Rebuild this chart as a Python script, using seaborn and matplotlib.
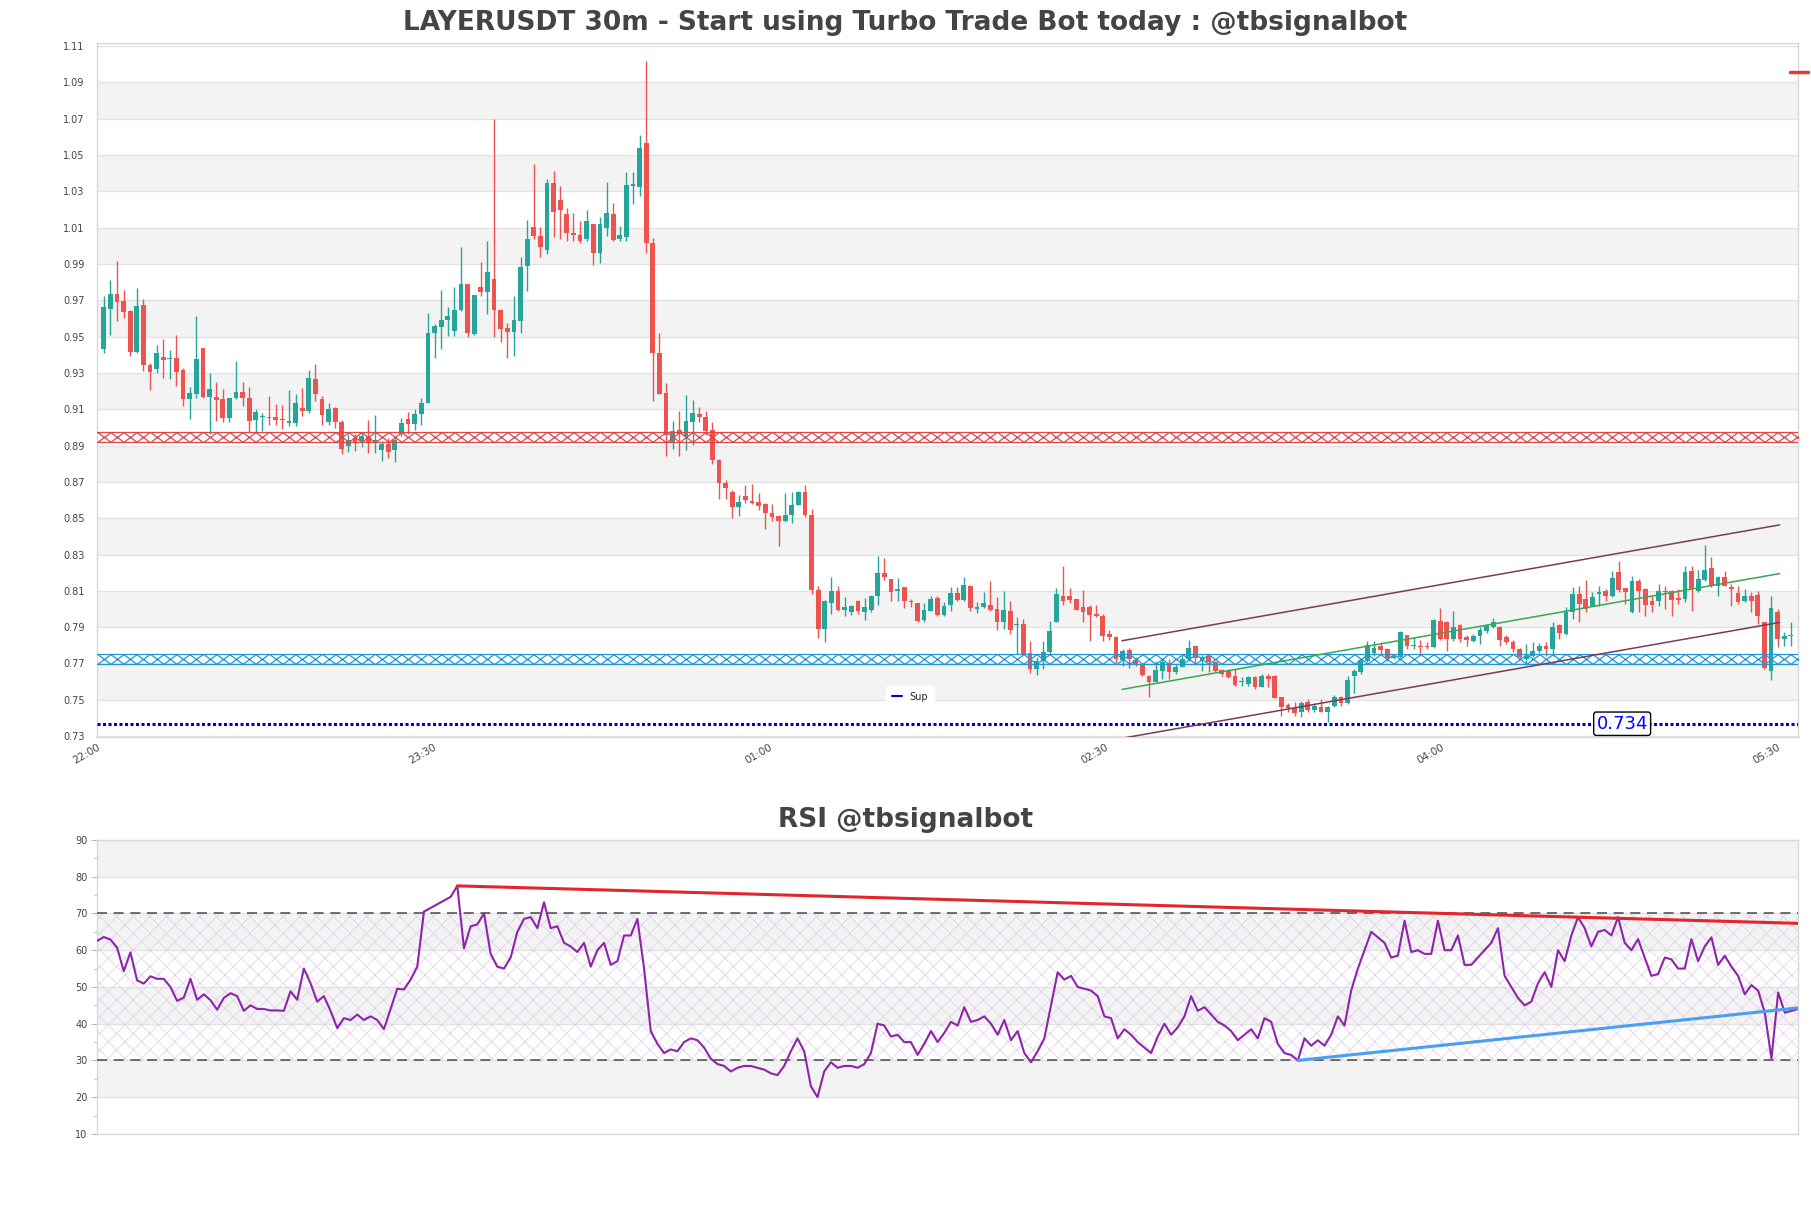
import matplotlib
matplotlib.use('Agg')
import matplotlib.pyplot as plt
import matplotlib.transforms as mtransforms
import seaborn as sns
import numpy as np
import pandas as pd
from matplotlib.lines import Line2D
from matplotlib.path import Path

# ---------------- data ----------------
title_text = 'LAYERUSDT 30m - Start using Turbo Trade Bot today : @tbsignalbot'
rsi_title = 'RSI @tbsignalbot'

opens = [
    .9434, .9651, .9734, .9697, .9642, .9416, .9673, .9344, .9320, .9390,
    .9374, .9380, .9314, .9158, .9182, .9436, .9167, .9167, .9154, .9053,
    .9160, .9197, .9160, .9040, .9055, .9057, .9058, .9042, .9022, .9022,
    .9108, .9093, .9264, .9154, .9029, .9108, .9031, .8896, .8939, .8924,
    .8948, .8915, .8878, .8911, .8878, .8964, .9049, .9020, .9075, .9136,
    .9522, .9554, .9589, .9532, .9646, .9790, .9513, .9771, .9747, .9815,
    .9646, .9550, .9526, .9587, .9888, 1.0105, 1.0056, .9977, 1.0344, 1.0253,
    1.0173, 1.0068, 1.0059, 1.0035, 1.0118, .9962, 1.0100, 1.0173, 1.0039, 1.0050,
    1.0331, 1.0326, 1.0569, 1.0013, .9410, .9189, .8913, .8987, .8946, .9029,
    .9075, .9059, .8987, .8819, .8695, .8644, .8561, .8620, .8594, .8589,
    .8579, .8528, .8511, .8487, .8515, .8574, .8647, .8515, .8105, .7890,
    .8033, .8097, .7996, .7985, .8042, .7985, .7996, .8073, .8199, .8165,
    .8098, .8120, .8046, .8033, .7941, .7991, .8061, .7969, .8024, .8086,
    .8050, .8125, .7999, .8009, .8024, .8000, .7930, .7987, .7912, .7917,
    .7757, .7672, .7715, .7761, .7930, .8073, .8070, .8055, .8009, .8009,
    .7972, .7963, .7862, .7847, .7721, .7776, .7721, .7691, .7632, .7599,
    .7660, .7700, .7651, .7682, .7724, .7794, .7715, .7739, .7706, .7665,
    .7656, .7632, .7596, .7586, .7627, .7572, .7632, .7632, .7513, .7471,
    .7452, .7430, .7489, .7445, .7458, .7430, .7463, .7513, .7482, .7629,
    .7651, .7715, .7757, .7794, .7779, .7728, .7733, .7857, .7794, .7798,
    .7798, .7789, .7936, .7926, .7835, .7912, .7844, .7825, .7849, .7880,
    .7899, .7899, .7847, .7820, .7779, .7724, .7743, .7770, .7798, .7779,
    .7912, .7862, .7982, .8083, .8055, .8018, .8085, .8101, .8070, .8206,
    .8114, .7985, .8156, .8110, .8046, .8046, .8101, .8101, .8059, .8055,
    .8211, .8101, .8162, .8224, .8125, .8175, .8120, .8088, .8046, .8070,
    .8077, .7926, .7660, .7982, .7835, .7850]

highs = [
    .9725, .9812, .9915, .9756, .9645, .9767, .9707, .9357, .9452, .9486,
    .9425, .9508, .9329, .9222, .9611, .9438, .9298, .9250, .9209, .9162,
    .9366, .9252, .9224, .9103, .9077, .9173, .9130, .9126, .9204, .9182,
    .9215, .9314, .9347, .9173, .9132, .9110, .9040, .8961, .8961, .8974,
    .9040, .9071, .8924, .8942, .8948, .9053, .9086, .9099, .9163, .9629,
    .9569, .9756, .9661, .9775, .9991, .9792, .9731, .9909, 1.0028, 1.0698,
    .9651, .9575, .9725, .9936, 1.0142, 1.0449, 1.0105, 1.0367, 1.0414, 1.0330,
    1.0206, 1.0179, 1.0138, 1.0197, 1.0120, 1.0157, 1.0350, 1.0234, 1.0111, 1.0405,
    1.0405, 1.0609, 1.1016, 1.0045, .9520, .9244, .9038, .9090, .9180, .9152,
    .9112, .9088, .9029, .8828, .8712, .8657, .8629, .8684, .8690, .8640,
    .8581, .8579, .8513, .8638, .8644, .8649, .8684, .8552, .8129, .8048,
    .8175, .8125, .8064, .8024, .8050, .8059, .8075, .8294, .8280, .8167,
    .8169, .8122, .8055, .8035, .8031, .8073, .8073, .8040, .8119, .8119,
    .8175, .8132, .8037, .8092, .8156, .8064, .8101, .8046, .7954, .7945,
    .7821, .7733, .7821, .7932, .8114, .8238, .8116, .8057, .8105, .8022,
    .8024, .7972, .7884, .7849, .7779, .7783, .7733, .7697, .7638, .7715,
    .7724, .7724, .7697, .7748, .7829, .7798, .7746, .7748, .7715, .7669,
    .7669, .7669, .7623, .7632, .7632, .7642, .7642, .7634, .7518, .7485,
    .7489, .7494, .7504, .7485, .7507, .7467, .7526, .7522, .7632, .7669,
    .7724, .7825, .7825, .7816, .7783, .7748, .7880, .7859, .7844, .7831,
    .7820, .7945, .8004, .7936, .7991, .7917, .7857, .7862, .7899, .7917,
    .7949, .7908, .7857, .7831, .7783, .7807, .7816, .7812, .7820, .7930,
    .7917, .8009, .8120, .8129, .8162, .8092, .8129, .8110, .8211, .8267,
    .8116, .8184, .8165, .8114, .8070, .8138, .8129, .8103, .8110, .8235,
    .8239, .8217, .8353, .8285, .8184, .8211, .8138, .8129, .8110, .8092,
    .8101, .7930, .8074, .8000, .7871, .7926]

lows = [
    .9412, .9508, .9587, .9602, .9394, .9408, .9311, .9206, .9301, .9270,
    .9265, .9228, .9117, .9047, .9163, .9163, .8961, .9034, .9029, .9029,
    .9158, .9117, .8974, .8974, .8979, .9011, .9011, .8992, .9007, .9007,
    .9062, .9080, .9145, .9016, .9013, .8998, .8854, .8863, .8872, .8891,
    .8860, .8860, .8813, .8832, .8810, .8952, .8961, .8988, .9011, .9132,
    .9384, .9434, .9505, .9504, .9642, .9500, .9510, .9725, .9624, .9498,
    .9471, .9384, .9393, .9522, .9752, 1.0035, .9940, .9954, 1.0050, 1.0035,
    1.0028, 1.0028, 1.0017, 1.0026, .9894, .9908, 1.0054, 1.0028, 1.0028, 1.0028,
    1.0230, 1.0275, .9962, .9145, .9182, .8845, .8881, .8845, .8873, .8902,
    .9029, .8956, .8799, .8603, .8603, .8502, .8511, .8583, .8579, .8543,
    .8438, .8484, .8349, .8478, .8473, .8570, .8506, .8083, .7840, .7820,
    .7972, .7987, .7963, .7967, .7972, .7941, .7982, .8024, .8160, .8042,
    .8046, .8005, .8009, .7926, .7930, .7987, .7963, .7963, .7987, .8042,
    .8046, .7987, .7976, .8005, .7991, .7886, .7890, .7862, .7752, .7748,
    .7647, .7636, .7672, .7746, .7930, .8024, .8031, .7996, .7926, .7825,
    .7957, .7825, .7831, .7702, .7688, .7673, .7688, .7632, .7513, .7596,
    .7614, .7614, .7642, .7678, .7715, .7691, .7660, .7651, .7651, .7632,
    .7618, .7577, .7577, .7577, .7562, .7568, .7568, .7509, .7412, .7430,
    .7408, .7403, .7434, .7434, .7430, .7375, .7458, .7467, .7476, .7540,
    .7642, .7706, .7743, .7746, .7715, .7724, .7728, .7779, .7779, .7743,
    .7779, .7783, .7829, .7770, .7825, .7820, .7794, .7820, .7807, .7868,
    .7893, .7798, .7807, .7761, .7724, .7691, .7733, .7757, .7743, .7743,
    .7835, .7857, .7945, .7926, .7982, .8015, .8018, .8046, .8064, .8096,
    .8028, .7978, .7982, .7963, .7982, .8018, .8000, .7963, .8028, .8037,
    .7991, .8096, .8156, .8120, .8070, .8125, .8018, .8028, .8037, .7982,
    .7917, .7669, .7610, .7789, .7798, .7798]

closes = [
    .9664, .9734, .9692, .9637, .9416, .9670, .9344, .9305, .9412, .9371,
    .9376, .9305, .9158, .9191, .9375, .9167, .9213, .9150, .9053, .9160,
    .9197, .9160, .9034, .9086, .9057, .9053, .9040, .9040, .9038, .9132,
    .9090, .9270, .9182, .9068, .9099, .9029, .8883, .8933, .8918, .8952,
    .8915, .8933, .8911, .8865, .8928, .9025, .9020, .9075, .9136, .9522,
    .9556, .9591, .9611, .9646, .9790, .9522, .9729, .9743, .9854, .9645,
    .9541, .9526, .9591, .9882, 1.0035, 1.0054, .9991, 1.0344, 1.0186, 1.0197,
    1.0068, 1.0057, 1.0026, 1.0138, .9962, 1.0118, 1.0179, 1.0032, 1.0057, 1.0333,
    1.0339, 1.0541, 1.0013, .9410, .9182, .8956, .8980, .8961, .9033, .9081,
    .9057, .8978, .8818, .8693, .8666, .8561, .8589, .8598, .8585, .8567,
    .8528, .8509, .8487, .8519, .8574, .8647, .8515, .8107, .7890, .8046,
    .8101, .7994, .8009, .8018, .7987, .8009, .8073, .8199, .8178, .8096,
    .8110, .8046, .8037, .7936, .7994, .8055, .7969, .8018, .8088, .8050,
    .8132, .8004, .8009, .8031, .7996, .7926, .7994, .7886, .7914, .7748,
    .7672, .7715, .7761, .7877, .8083, .8042, .8051, .7996, .7985, .7969,
    .7963, .7853, .7847, .7724, .7770, .7724, .7691, .7638, .7599, .7664,
    .7706, .7651, .7682, .7724, .7785, .7728, .7733, .7706, .7660, .7642,
    .7627, .7583, .7605, .7627, .7572, .7632, .7614, .7509, .7458, .7452,
    .7426, .7482, .7443, .7463, .7434, .7458, .7518, .7485, .7608, .7656,
    .7719, .7801, .7783, .7776, .7728, .7743, .7871, .7794, .7798, .7789,
    .7789, .7941, .7835, .7835, .7899, .7835, .7829, .7853, .7886, .7904,
    .7926, .7829, .7820, .7779, .7733, .7743, .7770, .7794, .7779, .7903,
    .7868, .7985, .8083, .8028, .8000, .8068, .8089, .8070, .8169, .8107,
    .8092, .8156, .8101, .8022, .8022, .8101, .8092, .8051, .8051, .8206,
    .8110, .8165, .8215, .8125, .8175, .8129, .8110, .8040, .8070, .8046,
    .7963, .7673, .8004, .7835, .7853, .7857]

rsi = [
    62.5, 63.6, 62.9, 60.7, 54.3, 59.4, 51.8, 50.9, 52.9, 52.2,
    52.2, 50.0, 46.2, 47.1, 52.2, 46.5, 48.0, 46.4, 43.8, 47.0,
    48.3, 47.5, 43.5, 45.0, 44.0, 44.0, 43.6, 43.6, 43.5, 48.8,
    46.5, 55.0, 51.0, 46.0, 47.5, 43.5, 38.8, 41.5, 41.0, 42.5,
    41.0, 42.0, 41.0, 38.5, 44.0, 49.5, 49.3, 52.0, 55.5, 70.5,
    71.5, 72.5, 73.5, 74.5, 77.5, 60.5, 66.5, 67.0, 70.0, 59.0,
    55.5, 55.0, 58.0, 65.0, 68.5, 69.0, 66.0, 73.0, 66.0, 66.5,
    62.0, 61.0, 59.5, 62.0, 55.5, 60.0, 62.0, 56.0, 57.0, 64.0,
    64.0, 68.5, 55.0, 38.0, 34.5, 32.0, 33.0, 32.5, 35.0, 36.0,
    35.5, 33.5, 30.5, 29.0, 28.5, 27.0, 28.0, 28.5, 28.5, 28.0,
    27.5, 26.5, 26.0, 28.5, 32.5, 36.0, 32.5, 23.0, 20.0, 27.0,
    29.5, 28.0, 28.5, 28.5, 28.0, 29.0, 32.0, 40.0, 39.5, 36.5,
    37.0, 35.0, 35.0, 31.5, 34.5, 38.0, 35.0, 37.5, 40.5, 39.5,
    44.5, 40.5, 41.0, 42.0, 40.0, 37.0, 41.0, 35.5, 38.0, 32.0,
    29.5, 32.5, 36.0, 45.0, 54.0, 52.0, 53.0, 50.0, 49.5, 49.0,
    47.5, 42.0, 41.5, 36.0, 38.5, 37.0, 35.0, 33.5, 32.0, 36.5,
    40.0, 37.0, 39.0, 42.0, 47.5, 43.5, 44.5, 42.5, 40.5, 39.5,
    38.0, 35.5, 37.0, 38.5, 36.0, 41.5, 40.5, 34.5, 32.0, 31.5,
    30.0, 36.0, 34.0, 35.5, 34.0, 37.0, 42.0, 39.5, 49.0, 55.0,
    60.0, 65.0, 63.5, 62.0, 58.0, 58.5, 68.0, 59.5, 60.0, 59.0,
    59.0, 68.0, 60.0, 60.0, 64.0, 56.0, 56.0, 58.0, 60.0, 62.0,
    66.0, 53.0, 50.0, 47.0, 45.0, 46.0, 51.0, 54.0, 50.0, 60.0,
    57.0, 64.0, 69.0, 66.0, 61.0, 65.0, 65.5, 64.0, 69.0, 62.0,
    60.0, 63.0, 58.0, 53.0, 53.5, 58.0, 57.5, 55.0, 55.0, 63.0,
    57.0, 61.0, 63.5, 56.0, 58.5, 55.5, 53.0, 48.0, 50.5, 49.0,
    43.0, 30.5, 48.5, 43.0, 43.5, 44.0]

tick_pos = [-1, 49.8, 100.6, 151.4, 202.2, 253.0]
tick_labels = ['22:00', '23:30', '01:00', '02:30', '04:00', '05:30']

resistance_level = 0.8948
support_zone_level = 0.7725
sup_level = 0.7368
sup_label = '0.734'
top_mark_level = 1.0957

chan_x = [153.9, 253.3]
chan_upper = [0.7825, 0.8463]
chan_lower = [0.7288, 0.7926]
chan_mid = [0.7557, 0.8195]

rsi_red_x = [54, 255]
rsi_red_y = [77.5, 67.3]
rsi_blue_x = [180, 255]
rsi_blue_y = [30.0, 44.3]

# ---------------- style ----------------
GREEN = '#26a69a'
RED = '#ef5350'
BAND = '#f3f3f3'
GRID = '#e3e3e3'
TXT = '#444444'

sns.set_theme(style='white')
plt.rcParams['font.family'] = ['DejaVu Sans']
plt.rcParams['hatch.linewidth'] = 0.5

fig = plt.figure(figsize=(18.11, 12.08), dpi=100)
ax = fig.add_axes([0.0536, 0.3899, 0.9393, 0.5745])
ax2 = fig.add_axes([0.0536, 0.0613, 0.9393, 0.2434])

xmin, xmax = -1, 256.1

# ---------------- price panel ----------------
df = pd.DataFrame({'open': opens, 'high': highs, 'low': lows, 'close': closes})
df['x'] = np.arange(len(df))
cols = np.where(df['close'] >= df['open'], GREEN, RED)

for lo in np.arange(0.75, 1.08, 0.04):
    ax.axhspan(lo, lo + 0.02, color=BAND, zorder=0, lw=0)

ax.vlines(df['x'], df['low'], df['high'], colors=cols, lw=1.0, zorder=3)
body_lo = np.minimum(df['open'], df['close'])
body_h = np.maximum((df['close'] - df['open']).abs(), 0.0006)
ax.bar(df['x'], body_h, bottom=body_lo, width=0.72, color=cols, lw=0, zorder=4)

# hatched support / resistance zones
xmark = Path([(-0.675, -0.5), (0.675, 0.5), (-0.675, 0.5), (0.675, -0.5)],
             [Path.MOVETO, Path.LINETO, Path.MOVETO, Path.LINETO])
half = 0.00265
mx = np.arange(xmin + 1, xmax, 2)
for lvl, c in [(resistance_level, '#e04545'), (support_zone_level, '#1f97d4')]:
    ax.axhline(lvl + half, color=c, lw=0.9, zorder=5)
    ax.axhline(lvl - half, color=c, lw=0.9, zorder=5)
    ax.plot(mx, np.full(len(mx), lvl), ls='none', marker=xmark, ms=9.4,
            mew=0.9, mec=c, mfc='none', zorder=5)

# support line
ax.axhline(sup_level, color='#0000cd', lw=2.2, ls=(0, (1, 0.8)), zorder=5)
ax.text(229.5, sup_level, sup_label, color='#0000ff', fontsize=13,
        ha='center', va='center', zorder=7,
        bbox=dict(boxstyle='round,pad=0.15', fc='white', ec='black', lw=1))
ax.legend(handles=[Line2D([0], [0], color='#0000cd', lw=1.5)], labels=['Sup'],
          loc='center', bbox_to_anchor=(0.478, 0.058), fontsize=7,
          frameon=True, framealpha=1, edgecolor='white', handlelength=1.0,
          borderpad=0.6)

# channel
ax.plot(chan_x, chan_upper, color='#7b3b5e', lw=1.1, zorder=6)
ax.plot(chan_x, chan_lower, color='#7b3b5e', lw=1.1, zorder=6)
ax.plot(chan_x, chan_mid, color='#3aa655', lw=1.1, zorder=6)

# marker at the right edge
ax.plot([254.9, 257.6], [top_mark_level] * 2, color='#e53935', lw=2.5,
        clip_on=False, zorder=8)

ax.set_xlim(xmin, xmax)
ax.set_ylim(0.7295, 1.1117)
ax.set_yticks(np.arange(0.73, 1.1101, 0.02))
ax.set_yticklabels([f'{v:.2f}' for v in np.arange(0.73, 1.1101, 0.02)])
ax.set_xticks(tick_pos)
ax.set_xticklabels(tick_labels, rotation=30, ha='right', rotation_mode='anchor')
shift = mtransforms.ScaledTranslation(-0.1, 0, fig.dpi_scale_trans)
for lab in ax.get_xticklabels():
    lab.set_transform(lab.get_transform() + shift)
ax.grid(axis='y', color=GRID, lw=1, zorder=1)
ax.grid(axis='x', visible=False)
ax.set_axisbelow(True)
ax.tick_params(axis='both', length=0, labelsize=7, colors=TXT, pad=9)
ax.tick_params(axis='x', pad=4, labelsize=7.5)
for s in ax.spines.values():
    s.set_color('#d9d9d9')
    s.set_linewidth(1)

fig.text(0.5, 0.981, title_text, ha='center', va='center', fontsize=19,
         fontweight='bold', color=TXT)

# ---------------- RSI panel ----------------
rsi_df = pd.DataFrame({'x': np.arange(len(rsi)), 'rsi': rsi})
rx0, rx1 = 0, len(rsi) - 1
for lo in [20, 40, 60, 80]:
    ax2.axhspan(lo, lo + 10, color=BAND, zorder=0, lw=0)
ax2.fill_between([rx0, rx1], 30, 70, facecolor='none', edgecolor='#dccde6',
                 hatch='xx', lw=0, zorder=1)
ax2.axhline(70, color='#555555', lw=1.2, ls=(0, (6, 4)), zorder=3)
ax2.axhline(30, color='#555555', lw=1.2, ls=(0, (6, 4)), zorder=3)
sns.lineplot(data=rsi_df, x='x', y='rsi', ax=ax2, color='#8e24aa', lw=1.5,
             zorder=4)
ax2.plot(rsi_red_x, rsi_red_y, color='#e3262b', lw=2.2, zorder=5)
ax2.plot(rsi_blue_x, rsi_blue_y, color='#4a9ff0', lw=2.2, zorder=5)

ax2.set_xlim(rx0, rx1)
ax2.set_ylim(10, 90)
ax2.set_yticks(np.arange(10, 91, 10))
ax2.set_yticks(np.arange(15, 90, 10), minor=True)
ax2.set_xticks([])
ax2.set_xlabel('')
ax2.set_ylabel('')
ax2.grid(axis='y', color=GRID, lw=1, zorder=1)
ax2.set_axisbelow(True)
ax2.tick_params(axis='y', which='major', length=4, width=0.8, color='#bbbbbb',
                labelsize=7, labelcolor=TXT, pad=3, left=True)
ax2.tick_params(axis='y', which='minor', length=2.5, width=0.8, color='#bbbbbb',
                left=True)
for s in ax2.spines.values():
    s.set_color('#d9d9d9')
    s.set_linewidth(1)

fig.text(0.5, 0.321, rsi_title, ha='center', va='center', fontsize=19,
         fontweight='bold', color=TXT)

fig.savefig('out.png', dpi=100)
